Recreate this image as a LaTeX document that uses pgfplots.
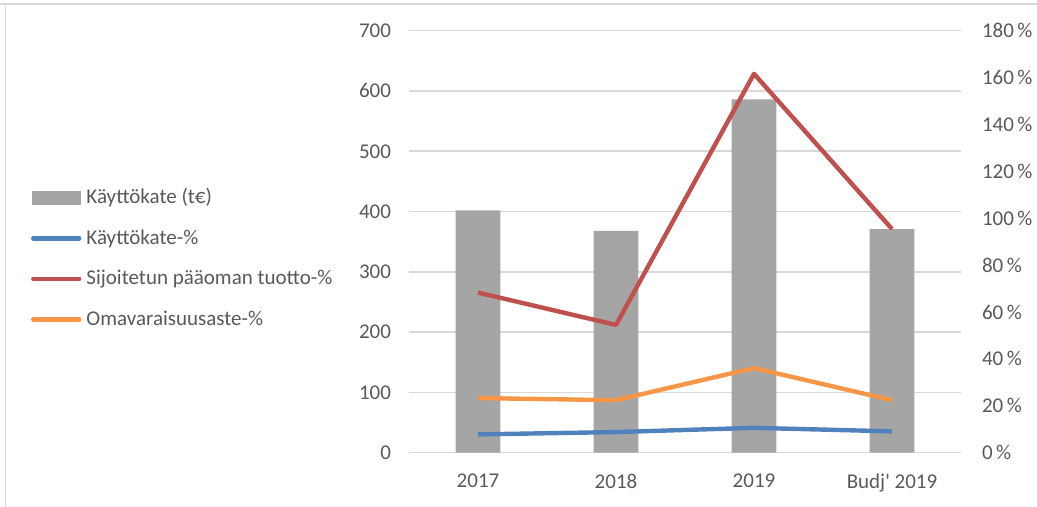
\documentclass[border=0pt]{standalone}
\usepackage{pgfplots}
\pgfplotsset{compat=1.18}
\usepackage{fontspec}
\setmainfont{Carlito}
\definecolor{txt}{HTML}{595959}
\definecolor{gridc}{HTML}{D9D9D9}
\definecolor{barc}{HTML}{A5A5A5}
\definecolor{blueL}{HTML}{4F81BD}
\definecolor{redL}{HTML}{C0504D}
\definecolor{orangeL}{HTML}{F79646}
\begin{document}
\begin{tikzpicture}[font=\fontsize{10.5}{12.6}\selectfont]
\path[use as bounding box] (0,0) rectangle (518.5pt,253.5pt);
\draw[gridc, line width=0.8pt] (0,251.5pt) -- (518.5pt,251.5pt);
\draw[gridc, line width=0.8pt] (2.75pt,0) -- (2.75pt,251.5pt);
\begin{axis}[
  at={(204.5pt,27.15pt)}, anchor=south west,
  width=276pt, height=211pt, scale only axis,
  xmin=-0.5, xmax=3.5, ymin=0, ymax=700,
  ytick={0,100,...,700},
  xtick={0,1,2,3},
  xticklabels={2017,2018,2019,Budj\textquotesingle{} 2019},
  axis line style={draw=none},
  major tick length=0pt,
  ymajorgrids, grid style={gridc, line width=0.8pt},
  tick label style={text=txt},
  /pgf/number format/assume math mode=true,
  yticklabel style={xshift=-5.5pt},
  xticklabel style={yshift=-7.3pt},
  clip=false,
]
\addplot[ybar, bar width=22.3pt, fill=barc, draw=none] coordinates {(0,402) (1,368) (2,586) (3,371)};
\end{axis}
\begin{axis}[
  at={(204.5pt,27.15pt)}, anchor=south west,
  width=276pt, height=211pt, scale only axis,
  xmin=-0.5, xmax=3.5, ymin=0, ymax=180,
  axis x line=none,
  axis y line*=right,
  axis line style={draw=none},
  ytick={0,20,...,180},
  yticklabel={\pgfmathprintnumber{\tick}\,\%},
  /pgf/number format/assume math mode=true,
  major tick length=0pt,
  tick label style={text=txt},
  yticklabel style={xshift=7pt},
  legend cell align=left,
  legend style={at={(-0.6854,0.461)}, anchor=west, draw=none, fill=none,
    inner sep=0pt, text=txt, row sep=11.5pt,
    nodes={inner xsep=2.5pt, inner ysep=0pt},
    font=\fontsize{10.5}{12.6}\selectfont},
  clip=false,
]
\addlegendimage{legend image code/.code={\fill[barc] (0pt,-3.25pt) rectangle (24pt,3.25pt);}}
\addlegendentry{Käyttökate (t€)}
\addplot[blueL, line width=2.2pt, line join=round,
  legend image code/.code={\draw[blueL, line width=2.2pt, line cap=round] (0.5pt,0pt) -- (23.5pt,0pt);}]
  coordinates {(0,7.8) (1,8.8) (2,10.6) (3,9.1)};
\addlegendentry{Käyttökate-\%}
\addplot[redL, line width=2.2pt, line join=round,
  legend image code/.code={\draw[redL, line width=2.2pt, line cap=round] (0.5pt,0pt) -- (23.5pt,0pt);}]
  coordinates {(0,68.3) (1,54.5) (2,161.6) (3,95.4)};
\addlegendentry{Sijoitetun pääoman tuotto-\%}
\addplot[orangeL, line width=2.2pt, line join=round,
  legend image code/.code={\draw[orangeL, line width=2.2pt, line cap=round] (0.5pt,0pt) -- (23.5pt,0pt);}]
  coordinates {(0,23.3) (1,22.4) (2,36.1) (3,22.4)};
\addlegendentry{Omavaraisuusaste-\%}
\end{axis}
\end{tikzpicture}
\end{document}
